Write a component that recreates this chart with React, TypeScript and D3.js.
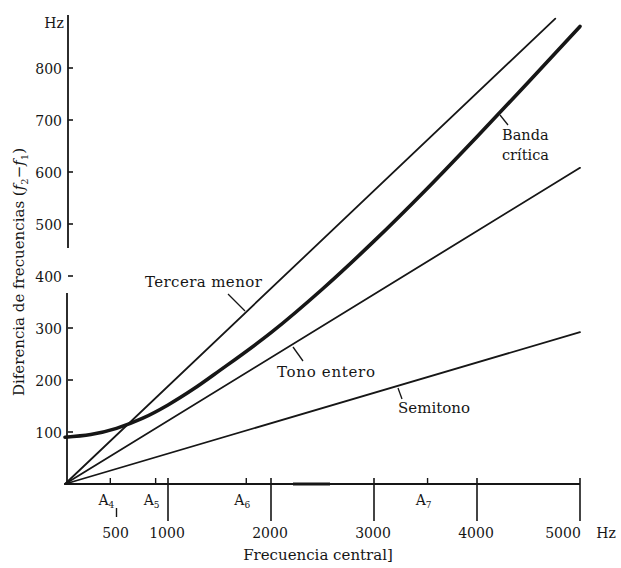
import React from "react";
import * as d3 from "d3";

// ---- data ----
const xTickValues = [500, 1000, 2000, 3000, 4000, 5000];
const xTickLabels = ["500", "1000", "2000", "3000", "4000", "5000"];
const noteFreqs = [440, 880, 1760, 3520];
const noteLabels = ["4", "5", "6", "7"];
const yTickValues = [100, 200, 300, 400, 500, 600, 700, 800];

const semitonoFreq = [0, 5000];
const semitonoDiff = [0, 292];
const tonoFreq = [0, 5000];
const tonoDiff = [0, 608];
const terceraFreq = [0, 4760];
const terceraDiff = [0, 895];
const bandaFreq = [0, 250, 500, 750, 1000, 1250, 1500, 2000, 2500, 3000, 3500, 4000, 4500, 5000];
const bandaDiff = [90, 95, 107, 126, 152, 183, 218, 291, 375, 467, 565, 668, 773, 880];

const W = 621;
const H = 568;
const FONT = "'DejaVu Serif', 'Liberation Serif', serif";
const INK = "#161616";

export default function App() {
  const x = d3.scaleLinear().domain([0, 5000]).range([65, 580]);
  const y = d3.scaleLinear().domain([0, 800]).range([484, 68]);
  const line = d3
    .line<[number, number]>()
    .x((d) => x(d[0]))
    .y((d) => y(d[1]));
  const curve = d3
    .line<[number, number]>()
    .x((d) => x(d[0]))
    .y((d) => y(d[1]))
    .curve(d3.curveMonotoneX);
  const zip = (a: number[], b: number[]) => a.map((v, i) => [v, b[i]] as [number, number]);

  const x0 = x(0);
  const y0 = y(0);

  return (
    <svg
      width={W}
      height={H}
      style={{ position: "absolute", left: 0, top: 0, background: "#fff" }}
      fontFamily={FONT}
      fill={INK}
    >
      <rect width={W} height={H} fill="#fff" />
      {/* y axis (with the break seen in the print) */}
      <line x1={68} x2={68} y1={15} y2={248} stroke={INK} strokeWidth={1.8} />
      <line x1={67} x2={67} y1={293} y2={y0} stroke={INK} strokeWidth={1.8} />
      {yTickValues.map((v) => (
        <g key={v}>
          <line x1={68} x2={73} y1={y(v)} y2={y(v)} stroke={INK} strokeWidth={1.6} />
          <text x={62} y={y(v) + 6} textAnchor="end" fontSize={14}>
            {v}
          </text>
        </g>
      ))}
      <text x={54} y={28} textAnchor="middle" fontSize={14}>
        Hz
      </text>
      <text transform={`translate(24, 272) rotate(-90)`} textAnchor="middle" fontSize={15}>
        Diferencia de frecuencias (<tspan fontStyle="italic">f</tspan>
        <tspan fontSize={10} dy={4}>2</tspan>
        <tspan dy={-4}>−</tspan>
        <tspan fontStyle="italic">f</tspan>
        <tspan fontSize={10} dy={4}>1</tspan>
        <tspan dy={-4}>)</tspan>
      </text>

      {/* x axis */}
      <line x1={x0} x2={x(5000)} y1={y0} y2={y0} stroke={INK} strokeWidth={1.8} />
      <line x1={293} x2={330} y1={y0} y2={y0} stroke={INK} strokeWidth={3} />
      {xTickValues.map((v, i) => (
        <g key={v}>
          {v === 500 ? (
            <line x1={x(v)} x2={x(v)} y1={508} y2={517} stroke={INK} strokeWidth={1.4} />
          ) : (
            <line x1={x(v)} x2={x(v)} y1={478} y2={521} stroke={INK} strokeWidth={1.6} />
          )}
          <text
            x={v === 5000 ? x(v) - 17 : x(v) - 1}
            y={538}
            textAnchor="middle"
            fontSize={14}
          >
            {xTickLabels[i]}
          </text>
        </g>
      ))}
      <text x={606} y={538} textAnchor="middle" fontSize={14}>
        Hz
      </text>
      {noteFreqs.map((f, i) => (
        <g key={f}>
          <line x1={x(f)} x2={x(f)} y1={478} y2={y0} stroke={INK} strokeWidth={1.4} />
          <text x={x(f) - 4} y={505} textAnchor="middle" fontSize={14}>
            A<tspan fontSize={9} dy={3}>{noteLabels[i]}</tspan>
          </text>
        </g>
      ))}
      <text x={318} y={560} textAnchor="middle" fontSize={15}>
        Frecuencia central]
      </text>

      {/* series */}
      <g fill="none" stroke={INK} strokeLinecap="round">
        <path d={line(zip(semitonoFreq, semitonoDiff)) || ""} strokeWidth={1.8} />
        <path d={line(zip(tonoFreq, tonoDiff)) || ""} strokeWidth={1.8} />
        <path d={line(zip(terceraFreq, terceraDiff)) || ""} strokeWidth={1.8} />
        <path d={curve(zip(bandaFreq, bandaDiff)) || ""} strokeWidth={3.6} />
      </g>

      {/* annotations */}
      <g fontSize={15}>
        <text x={145} y={287} letterSpacing={0.4}>Tercera menor</text>
        <line x1={228} y1={294} x2={245} y2={311} stroke={INK} strokeWidth={1.3} />
        <text x={277} y={377} letterSpacing={0.7}>Tono entero</text>
        <line x1={293} y1={347} x2={303} y2={361} stroke={INK} strokeWidth={1.3} />
        <text x={398} y={413}>Semitono</text>
        <line x1={398} y1={388} x2={402} y2={399} stroke={INK} strokeWidth={1.3} />
        <text x={502} y={140} fontSize={14.5}>Banda</text>
        <text x={502} y={160} fontSize={14.5}>crítica</text>
        <line x1={500} y1={115} x2={508} y2={125} stroke={INK} strokeWidth={1.3} />
      </g>
    </svg>
  );
}
